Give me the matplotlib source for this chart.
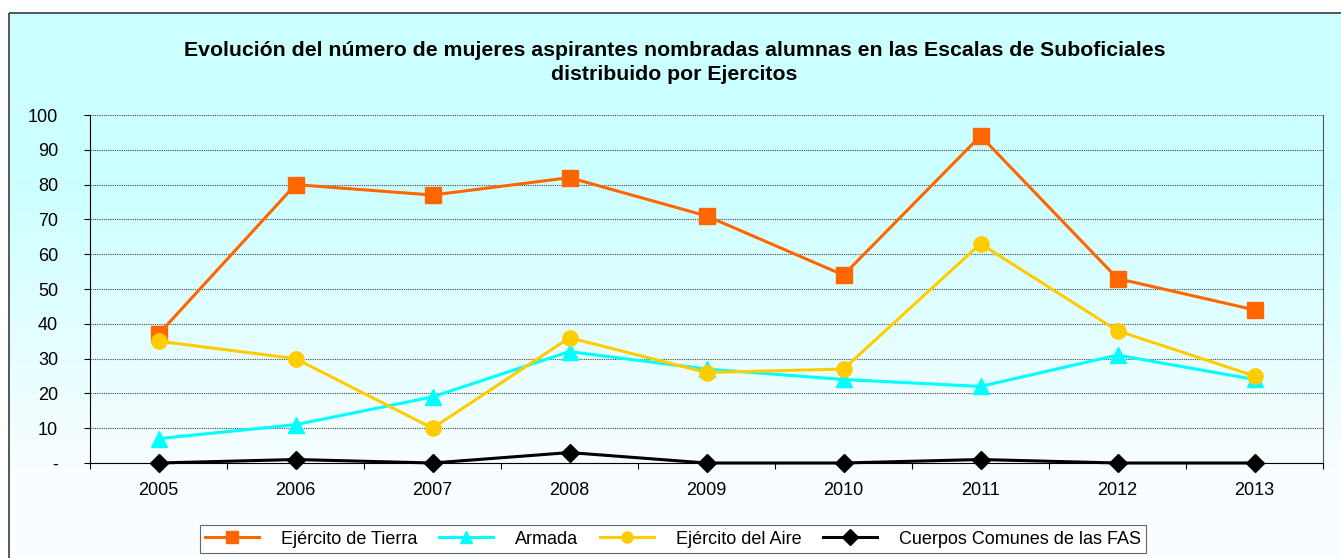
import matplotlib
matplotlib.use('Agg')
import matplotlib.pyplot as plt
import numpy as np
from matplotlib.patches import Rectangle

years = ['2005', '2006', '2007', '2008', '2009', '2010', '2011', '2012', '2013']
tierra = [37, 80, 77, 82, 71, 54, 94, 53, 44]
armada = [7, 11, 19, 32, 27, 24, 22, 31, 24]
aire = [35, 30, 10, 36, 26, 27, 63, 38, 25]
cuerpos = [0, 1, 0, 3, 0, 0, 1, 0, 0]
y_ticks = [0, 10, 20, 30, 40, 50, 60, 70, 80, 90, 100]
y_labels = ['-', '10', '20', '30', '40', '50', '60', '70', '80', '90', '100']

plt.rcParams['font.family'] = ['Liberation Sans', 'DejaVu Sans']

W, H = 1341, 558
fig = plt.figure(figsize=(W / 100, H / 100), dpi=100)

# background gradient of the chart area (cyan at top -> near white at bottom)
bg = fig.add_axes([0, 0, 1, 1], zorder=-2)
bg.set_xlim(0, W)
bg.set_ylim(H, 0)
bg.axis('off')
rows = np.arange(H)
t = np.clip((rows - 170) / (470 - 170), 0, 1)
top = np.array([0.80, 1.0, 1.0])
bot = np.array([0.975, 0.995, 1.0])
grad = top[None, :] * (1 - t[:, None]) + bot[None, :] * t[:, None]
img = np.repeat(grad[:, None, :], 2, axis=1)
bg.imshow(img, extent=[9, W + 5, H, 13], aspect='auto', zorder=0)
bg.add_patch(Rectangle((9, 13), W, H, fill=False, edgecolor='#3a3a3a', linewidth=1.2, zorder=1))

ax = fig.add_axes([90 / W, 1 - 463 / H, (1323 - 90) / W, (463 - 115) / H])
ax.set_facecolor('none')

x = np.arange(len(years))
ax.plot(x, tierra, color='#FF6600', linewidth=2.2, marker='s', markersize=11, label='Ejército de Tierra', zorder=4)
ax.plot(x, armada, color='#00FFFF', linewidth=2.2, marker='^', markersize=11, label='Armada', zorder=3)
ax.plot(x, aire, color='#FFCC00', linewidth=2.2, marker='o', markersize=11, label='Ejército del Aire', zorder=5)
ax.plot(x, cuerpos, color='black', linewidth=2.2, marker='D', markersize=9, label='Cuerpos Comunes de las FAS', zorder=6, clip_on=False)

ax.set_xlim(-0.5, len(years) - 0.5)
ax.set_ylim(0, 100)
ax.set_yticks(y_ticks)
ax.set_yticklabels(y_labels)
ax.set_xticks(x)
ax.set_xticklabels(years)
ax.set_xticks(np.arange(-0.5, len(years)), minor=True)
ax.tick_params(axis='x', which='major', length=0, pad=14, labelsize=13)
ax.tick_params(axis='x', which='minor', length=4, direction='out', width=0.8)
ax.tick_params(axis='y', length=4, direction='out', width=0.8, pad=19, labelsize=13)

ax.grid(axis='y', linestyle=(0, (1, 1)), color='#444444', linewidth=0.8)
ax.set_axisbelow(True)
ax.spines['top'].set_visible(False)
ax.spines['right'].set_color('#555555')
ax.spines['left'].set_color('black')
ax.spines['bottom'].set_color('black')

fig.text(0.503, 1 - 62.5 / H,
         'Evolución del número de mujeres aspirantes nombradas alumnas en las Escalas de Suboficiales\ndistribuido por Ejercitos',
         ha='center', va='center', fontsize=15.3, fontweight='bold', linespacing=1.35)

leg = fig.legend(loc='center', bbox_to_anchor=(673 / W, 1 - 539 / H), ncol=4, fontsize=13,
                 frameon=True, fancybox=False, edgecolor='#666666', framealpha=1,
                 handlelength=3, columnspacing=1.2, handletextpad=1.2, borderpad=0.3)
leg.get_frame().set_linewidth(0.8)
for h in leg.legend_handles:
    h.set_markersize(8)

fig.savefig('out.png', dpi=100)
